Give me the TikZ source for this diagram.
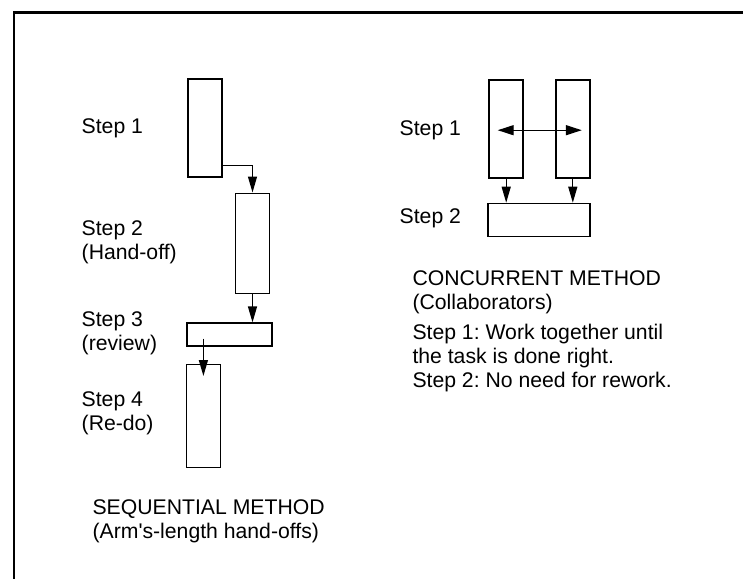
\documentclass[tikz,border=0pt]{standalone}
\usepackage{fontspec}
\setmainfont{Liberation Sans}
\usepackage{tikz}
\usetikzlibrary{arrows.meta,positioning,calc}
\frenchspacing

\tikzset{
  stepbox/.style={draw, line width=1.6pt, inner sep=0pt, minimum width=34pt},
  flow/.style={line width=1.3pt, -{Triangle[length=16pt,width=9pt]}},
  lbl/.style={anchor=west, inner sep=0pt, align=left, font=\fontsize{21.2}{24}\selectfont},
}

\begin{document}
\begin{tikzpicture}[x=1pt, y=-1pt]
\useasboundingbox (0,0) rectangle (743,579);
% frame (top and left only)
\draw[line width=2.8pt] (743,12.5) -- (14,12.5) -- (14,579);

% sequential method
\node[stepbox, minimum height=98pt] (s1) at (204.7,128) {};
\node[stepbox, minimum height=100pt] (s2) at (252.5,243.3) {};
\node[stepbox, minimum width=85pt, minimum height=23pt] (s3) at (229.2,334.7) {};
\node[stepbox, minimum height=103pt] (s4) at (203.4,415.8) {};
\coordinate (s3in) at ($(s4.north)+(0,-25)$);
\coordinate (s4in) at ($(s4.north)+(0,12.5)$);

\draw[flow] ($(s1.south east)+(0,-12.5)$) -| (s2.north);
\draw[flow] (s2.south) -- (s2.south |- s3.north);
\draw[flow] (s3in) -- (s4in);

\node[lbl] (l1) at (81.5,128.5) {Step 1};
\node[lbl] (l2) at (81.5,241.9) {Step 2\\(Hand-off)};
\node[lbl] (l3) at (81.5,333.3) {Step 3\\(review)};
\node[lbl] (l4) at (81.5,413) {Step 4\\(Re-do)};
\node[lbl] (seq) at (92.4,521) {SEQUENTIAL METHOD\\(Arm\textquotesingle s-length hand-offs)};

% concurrent method
\node[stepbox, minimum height=98pt] (c1a) at (506.2,129.2) {};
\node[stepbox, minimum height=98pt] (c1b) at (572.8,129.2) {};
\node[stepbox, minimum width=102pt, minimum height=33pt] (c2) at (538.9,220) {};

\draw[line width=1.3pt, {Triangle[length=16pt,width=10pt]}-{Triangle[length=16pt,width=10pt]}]
  ([xshift=-8.5pt,yshift=-1pt]c1a.center) -- ([xshift=9pt,yshift=-1pt]c1b.center);
\draw[flow] (c1a.south) -- (c1a.south |- c2.north);
\draw[flow] (c1b.south) -- (c1b.south |- c2.north);

\node[lbl] (r1) at (399.5,130) {Step 1};
\node[lbl] (r2) at (399.5,218.6) {Step 2};
\node[lbl] (con) at (412.3,292) {CONCURRENT METHOD\\(Collaborators)};
\node[lbl] (note) at (412.3,358) {Step 1: Work together until\\the task is done right.\\Step 2: No need for rework.};
\end{tikzpicture}
\end{document}
